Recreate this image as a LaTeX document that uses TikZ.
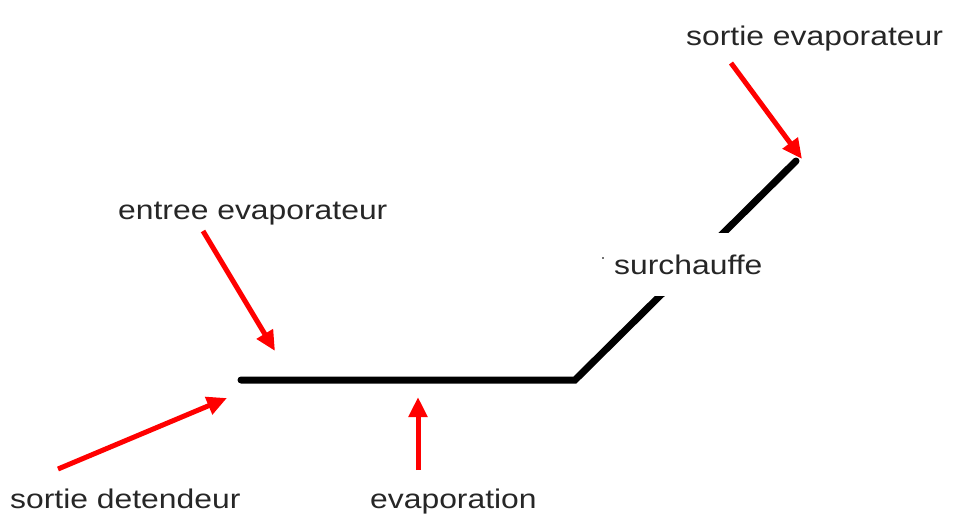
\documentclass[tikz,border=0pt]{standalone}
\usepackage{fontspec}
\setmainfont{Liberation Sans}[FakeStretch=1.18]
\usetikzlibrary{arrows.meta}
\begin{document}
\begin{tikzpicture}[x=1pt,y=-1pt,
  lbl/.style={anchor=base west,inner sep=0pt,text=black!85,font=\fontsize{27}{30}\selectfont},
  pipe/.style={line width=7pt,line cap=round,line join=miter},
  pointer/.style={draw=red,line width=5pt,-{Triangle[length=20pt,width=18pt]}}]
\useasboundingbox (0,0) rectangle (960,528);
% labels
\node[lbl] (se) at (686,45) {sortie evaporateur};
\node[lbl] (ee) at (118,219) {entree evaporateur};
\node[lbl] (sd) at (10,508) {sortie detendeur};
\node[lbl] (ev) at (370,508) {evaporation};
% evaporator line
\coordinate (start) at (241,380);
\coordinate (bend) at (575,380);
\coordinate (top) at (796,161);
\draw[pipe] (start) -- (bend) -- (top);
\fill[white] (598,233) rectangle (780,296);
\node[lbl] (su) at (614,274) {surchauffe};
\fill[black!55] (602,257) rectangle (604,259);
% arrow endpoints
\coordinate (a1s) at (731,63);
\coordinate (a1e) at (802,159);
\coordinate (a2s) at (203,231);
\coordinate (a2e) at (275,351);
\coordinate (a3s) at (58,469);
\coordinate (a3e) at (227,398);
\coordinate (a4s) at (418,470);
\coordinate (a4e) at (418,397);
\draw[pointer] (a1s) -- (a1e);
\draw[pointer] (a2s) -- (a2e);
\draw[pointer] (a3s) -- (a3e);
\draw[pointer] (a4s) -- (a4e);
\end{tikzpicture}
\end{document}
